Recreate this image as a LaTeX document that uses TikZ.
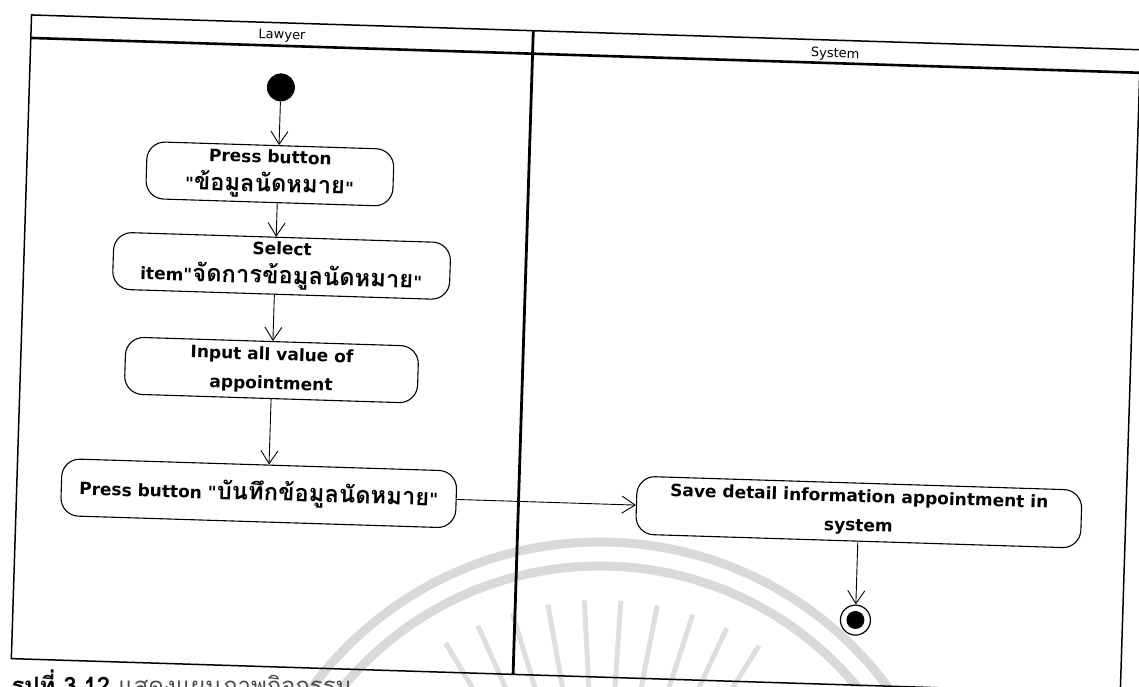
\documentclass[tikz,border=0pt]{standalone}
\usepackage{fontspec}
\setmainfont{DejaVu Sans}[Ligatures=TeXOff]
\newfontfamily\thaifont[Script=Thai,Scale=1.4]{Loma}
\newfontfamily\capfont[Script=Thai]{Loma}
\newcommand{\thai}[1]{{\thaifont #1}}
\usetikzlibrary{arrows.meta}

\begin{document}
\begin{tikzpicture}[x=1pt, y=-1pt,
  act/.style={rectangle, rounded corners=18pt, draw, line width=1.1pt, align=center,
    inner sep=0pt, minimum height=57pt, font=\bfseries\fontsize{17}{29}\selectfont},
  initst/.style={circle, fill=black, minimum size=28pt, inner sep=0pt},
  finalst/.style={circle, draw, line width=1.2pt, minimum size=30pt, inner sep=0pt,
    path picture={\fill (path picture bounding box.center) circle (9pt);}},
  lane/.style={font=\fontsize{13}{13}\selectfont},
  flow/.style={-{Straight Barb[length=13pt, width=17pt]}, line width=0.9pt},
  wmark/.style={line width=9pt, black!15},
  wray/.style={line width=5pt, black!13}]
  \useasboundingbox (0,0) rectangle (1139,686);
  % faint stamp of the scan
  \draw[wmark] (600,900) circle (358pt);
  \draw[wmark] (600,900) circle (334pt);
  \foreach \a in {58,65,...,122}
    \draw[wray, shift={(600,900)}] (\a:200pt) -- (\a:300pt);

  \begin{scope}[rotate around={-1.8:(570,343)}, transform shape]
  % swimlanes
  \draw[line width=1.5pt] (21.5,32) rectangle (1131,676);
  \draw[line width=2.6pt] (21.5,55) -- (1131,55);
  \draw[line width=2.8pt] (523.5,32) -- (523.5,676);
  \node[lane] (lawyer) at (272.5,45) {Lawyer};
  \node[lane] (system) at (826,46) {System};

  % lawyer
  \node[initst] (start) at (273,96.6) {};
  \node[act, minimum width=247pt] (press) at (264.7,183.4) {Press button\\"\thai{ข้อมูลนัดหมาย}"};
  \node[act, minimum width=337pt] (select) at (279.3,275) {Select\\item"\thai{จัดการข้อมูลนัดหมาย}"};
  \node[act, minimum width=293pt] (input) at (272.5,379.4) {Input all value of\\appointment};
  \node[act, minimum width=395pt] (save) at (263.6,503) {Press button "\thai{บันทึกข้อมูลนัดหมาย}"};

  % system
  \node[act, minimum width=445pt, minimum height=58pt] (store) at (864,503) {Save detail information appointment in\\system};
  \node[finalst] (stop) at (864,611) {};

  \draw[flow] (start) -- (start |- press.north);
  \draw[flow] (press.south -| start) -- (select.north -| start);
  \draw[flow] (select.south -| start) -- (input.north -| start);
  \draw[flow] (input.south -| start) -- (save.north -| start);
  \draw[flow] (save) -- (store);
  \draw[flow] (store) -- (stop);
  \end{scope}

  \node[anchor=base west, font=\capfont\fontsize{24}{24}\selectfont] (caption) at (8,694)
    {\bfseries รูปที่ 3.12 \mdseries\color{black!70}แสดงแผนภาพกิจกรรม};
\end{tikzpicture}
\end{document}
